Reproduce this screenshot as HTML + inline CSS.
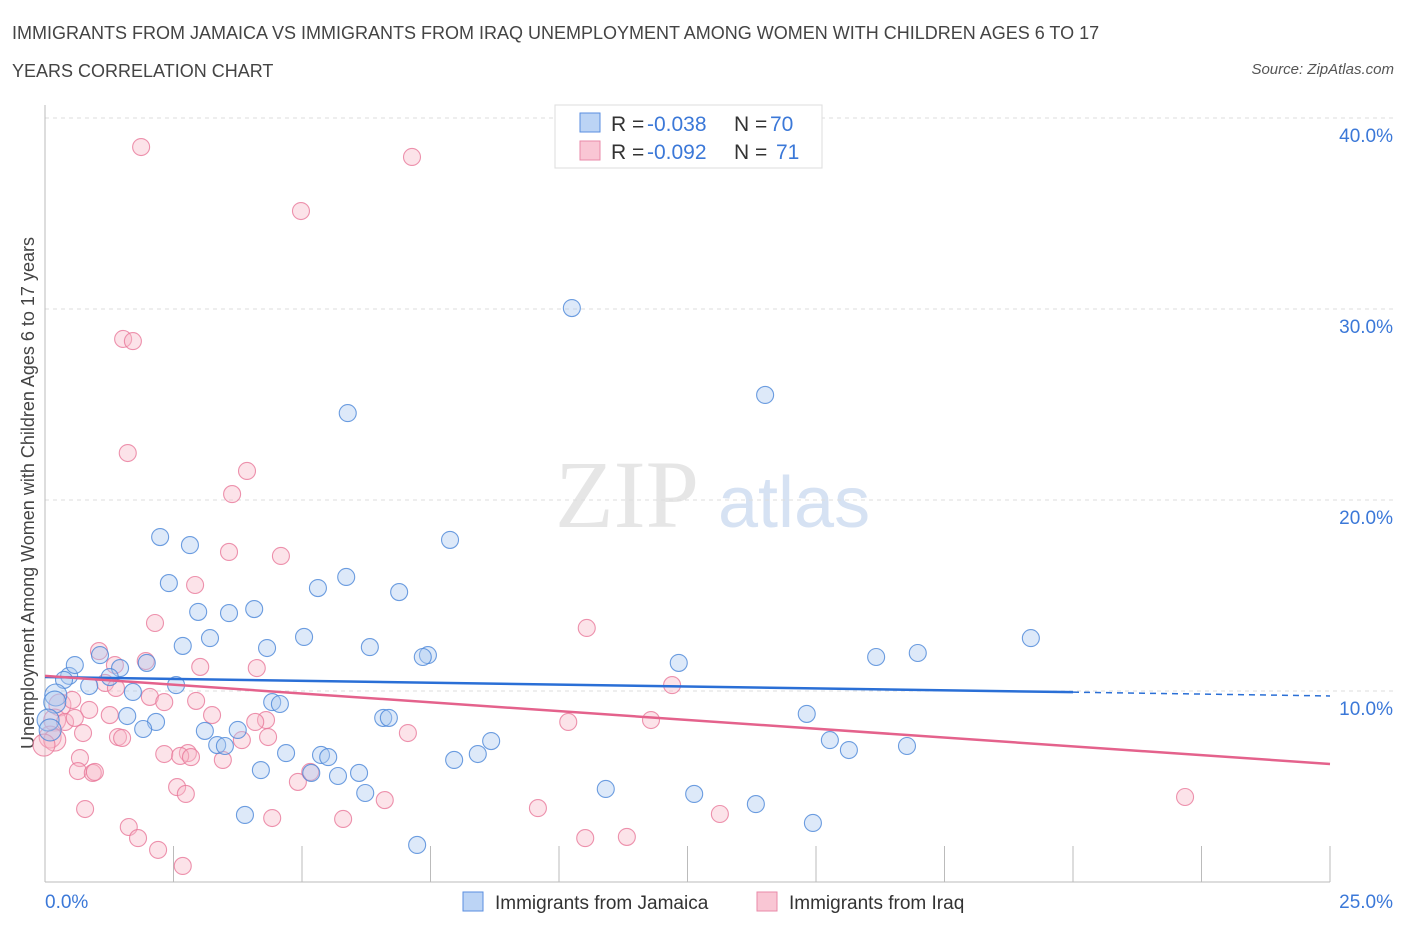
<!DOCTYPE html>
<html><head><meta charset="utf-8"><style>
body{margin:0;background:#fff;font-family:"Liberation Sans",sans-serif;}
.t{position:absolute;color:#444;font-size:18px;}
</style></head><body>
<div style="position:relative;width:1406px;height:930px;overflow:hidden">
<div class="t" style="left:12px;top:14px;line-height:38px;width:1300px;font-size:18px;white-space:nowrap">IMMIGRANTS FROM JAMAICA VS IMMIGRANTS FROM IRAQ UNEMPLOYMENT AMONG WOMEN WITH CHILDREN AGES 6 TO 17<br>YEARS CORRELATION CHART</div>
<div class="t" style="right:12px;top:61px;font-size:15px;font-style:italic;color:#555">Source: ZipAtlas.com</div>
<svg id="c" width="1406" height="930" style="position:absolute;left:0;top:0"></svg>
</div>
<script>
const jamPx=[[572,308],[765,395],[348,413],[160,537],[190,545],[450,540],[346,577],[318,588],[399,592],[169,583],[198,612],[229,613],[254,609],[304,637],[210,638],[183,646],[267,648],[370,647],[428,655],[423,657],[679,663],[876,657],[918,653],[1031,638],[100,655],[120,668],[110,677],[69,676],[64,680],[89,686],[176,685],[133,692],[56,695],[55,702],[127,716],[156,722],[143,729],[205,731],[238,730],[272,702],[280,704],[383,718],[389,718],[807,714],[830,740],[849,750],[907,746],[217,745],[225,746],[286,753],[321,755],[328,757],[491,741],[478,754],[454,760],[261,770],[311,773],[338,776],[359,773],[365,793],[245,815],[417,845],[606,789],[694,794],[756,804],[813,823],[48,720],[50,730],[75,665],[147,663]];
const iraqPx=[[141,147],[412,157],[301,211],[123,339],[133,341],[128,453],[247,471],[232,494],[229,552],[281,556],[195,585],[155,623],[587,628],[99,651],[146,661],[200,667],[257,668],[115,665],[105,683],[116,688],[150,697],[196,701],[164,702],[60,705],[72,700],[89,710],[110,715],[212,715],[55,720],[65,722],[75,718],[266,720],[255,722],[568,722],[651,720],[83,733],[118,737],[122,738],[268,737],[408,733],[242,740],[50,737],[55,740],[80,758],[164,754],[188,753],[180,756],[223,760],[191,757],[78,771],[93,773],[310,772],[298,782],[385,800],[177,787],[186,794],[720,814],[538,808],[85,809],[1185,797],[129,827],[138,838],[272,818],[343,819],[585,838],[627,837],[158,850],[183,866],[672,685],[95,772],[44,745]];
const jamaicaX=jamPx.map(p=>+((p[0]-45)/1285*25).toFixed(2));
const jamaicaY=jamPx.map(p=>+((882-p[1])/191*10).toFixed(2));
const iraqX=iraqPx.map(p=>+((p[0]-45)/1285*25).toFixed(2));
const iraqY=iraqPx.map(p=>+((882-p[1])/191*10).toFixed(2));
const trendBlue=[10.73,9.74];
const trendPink=[10.79,6.18];
const yTicks=[10,20,30,40];
const xTicks=[0,2.5,5,7.5,10,12.5,15,17.5,20,22.5,25];
const X0=45,X1=1330,Y0=882;
const sx=v=>X0+v/25*(X1-X0);
const sy=v=>Y0-v/10*191;
const svg=document.getElementById('c');
const NS='http://www.w3.org/2000/svg';
function mk(tag,a,p){const e=document.createElementNS(NS,tag);for(const k in a)e.setAttribute(k,a[k]);(p||svg).appendChild(e);return e;}
let w=mk('text',{x:555,y:527,'font-size':96,'font-family':'Liberation Serif, serif',fill:'#e6e6e6'});w.textContent='ZIP';


w=mk('text',{x:718,y:527,'font-size':72,'font-family':'Liberation Sans, sans-serif',fill:'#d6e2f3'});w.textContent='atlas';


yTicks.forEach(v=>{
 const l=mk('line',{x1:X0,x2:1395,y1:sy(v),y2:sy(v),stroke:'#ddd','stroke-dasharray':'4,4'});
 
 
 const t=mk('text',{x:1393,y:sy(v)+24,'text-anchor':'end','font-size':19,fill:'#3b78d8'});t.textContent=v.toFixed(1)+'%';
 
 
});
mk('line',{x1:X0,x2:X0,y1:105,y2:Y0,stroke:'#bbb'});
mk('line',{x1:X0,x2:X1,y1:Y0,y2:Y0,stroke:'#bbb'});
xTicks.forEach(v=>{const l=mk('line',{x1:sx(v),x2:sx(v),y1:Y0-36,y2:Y0,stroke:'#bbb'});
 
 });
let t=mk('text',{x:45,y:908,'font-size':19,fill:'#3b78d8'});t.textContent='0.0%';


t=mk('text',{x:1393,y:908,'font-size':19,fill:'#3b78d8','text-anchor':'end'});t.textContent='25.0%';


t=mk('text',{x:34,y:493,'font-size':18,fill:'#444','text-anchor':'middle',transform:'rotate(-90 34 493)'});t.textContent='Unemployment Among Women with Children Ages 6 to 17 years';


function pts(xs,ys,fill,stroke,name){xs.forEach((x,i)=>{const c=mk('circle',{cx:sx(x),cy:sy(ys[i]),r:x<0.3?11:8.5,fill:fill,'fill-opacity':0.4,stroke:stroke,'stroke-opacity':0.8,'stroke-width':1.1});
 
 });}
pts(iraqX,iraqY,'#f7b8c8','#e8789a','iraq-point');
pts(jamaicaX,jamaicaY,'#aac8f0','#4a86d8','jamaica-point');
let l=mk('line',{x1:sx(0),y1:sy(trendBlue[0]),x2:sx(20),y2:sy(trendBlue[0]+(trendBlue[1]-trendBlue[0])*0.8),stroke:'#2a6fd6','stroke-width':2.5});


l=mk('line',{x1:sx(20),y1:sy(trendBlue[0]+(trendBlue[1]-trendBlue[0])*0.8),x2:sx(25),y2:sy(trendBlue[1]),stroke:'#2a6fd6','stroke-width':1.5,'stroke-dasharray':'6,5'});


l=mk('line',{x1:sx(0),y1:sy(trendPink[0]),x2:sx(25),y2:sy(trendPink[1]),stroke:'#e4628c','stroke-width':2.5});


const g=mk('g',{});


mk('rect',{x:555,y:105,width:267,height:63,fill:'#fff',stroke:'#ddd'},g);
mk('rect',{x:580,y:113,width:20,height:19,fill:'#bcd4f5',stroke:'#5a8ee0'},g);
mk('rect',{x:580,y:141,width:20,height:19,fill:'#f9c6d4',stroke:'#e98aa8'},g);
function lt(x,y,s,c){const e=mk('text',{x:x,y:y,'font-size':21,fill:c},g);e.textContent=s;return e;}
lt(611,131,'R =','#333');lt(647,131,'-0.038','#3b78d8');lt(734,131,'N =','#333');lt(770,131,'70','#3b78d8');
lt(611,159,'R =','#333');lt(647,159,'-0.092','#3b78d8');lt(734,159,'N =','#333');lt(776,159,'71','#3b78d8');
const b=mk('g',{});


mk('rect',{x:463,y:892,width:20,height:19,fill:'#bcd4f5',stroke:'#5a8ee0'},b);
mk('rect',{x:757,y:892,width:20,height:19,fill:'#f9c6d4',stroke:'#e98aa8'},b);
t=mk('text',{x:495,y:909,'font-size':19,fill:'#333'},b);t.textContent='Immigrants from Jamaica';
t=mk('text',{x:789,y:909,'font-size':19,fill:'#333'},b);t.textContent='Immigrants from Iraq';
</script>
</body></html>
